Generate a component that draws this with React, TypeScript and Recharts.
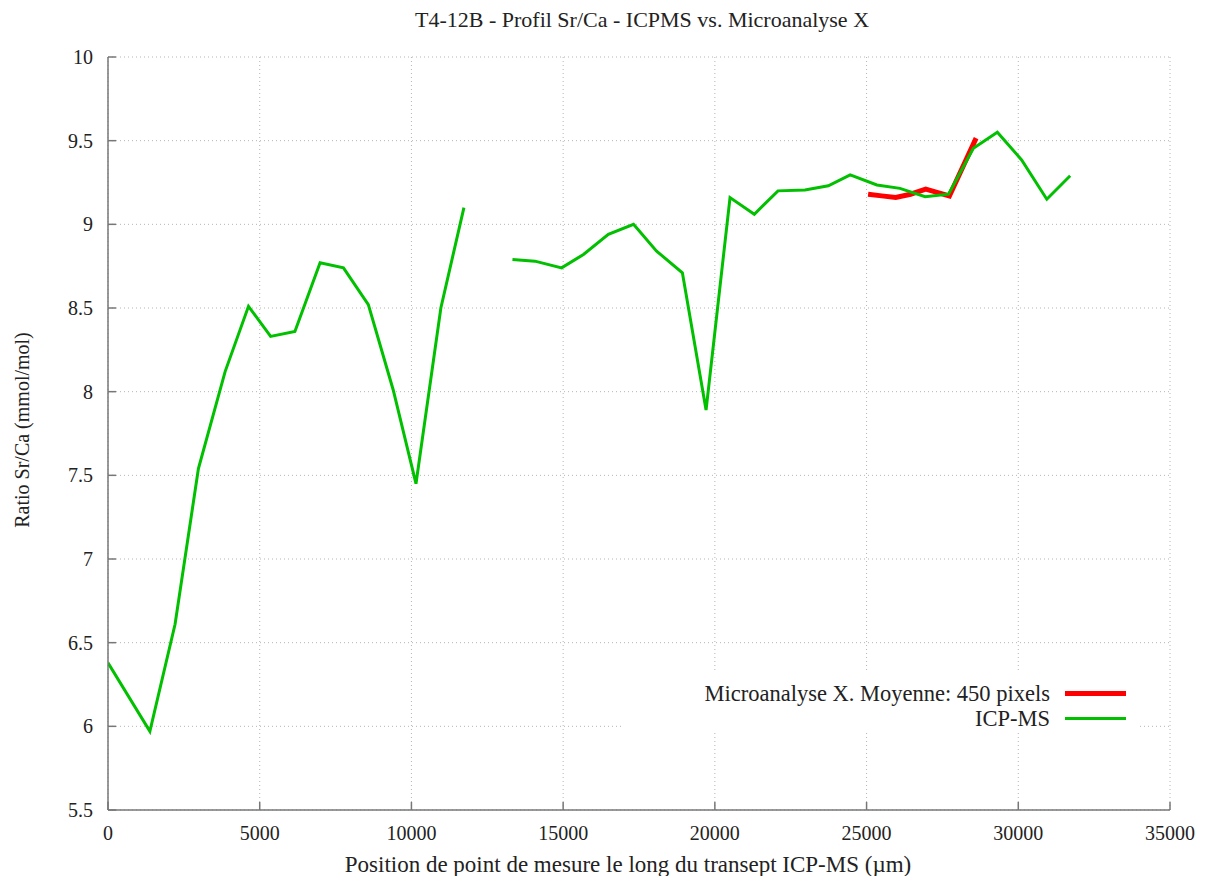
import React from 'react';
import { LineChart, Line, XAxis, YAxis, CartesianGrid, Legend } from 'recharts';

// ICP-MS profile (null = break in the transect)
const icpX = [
  0, 1380, 2210, 2980, 3860, 4630, 5360, 6160, 6990, 7760, 8580, 9400, 10150, 10970, 11730,
  12500,
  13330, 14070, 14950, 15670, 16490, 17320, 18080, 18930, 19710, 20500, 21300, 22080,
  22970, 23740, 24460, 25340, 26100, 26930, 27700, 28520, 29310, 30110, 30940, 31710,
];
const icpY = [
  6.38, 5.97, 6.61, 7.54, 8.12, 8.51, 8.33, 8.36, 8.77, 8.74, 8.52, 8.01, 7.45, 8.5, 9.1,
  null,
  8.79, 8.78, 8.74, 8.82, 8.94, 9.0, 8.84, 8.71, 7.89, 9.16, 9.06, 9.2,
  9.205, 9.23, 9.295, 9.235, 9.215, 9.165, 9.18, 9.455, 9.55, 9.385, 9.15, 9.29,
];

// Microanalyse X, moyenne 450 pixels
const microX = [25050, 25500, 25960, 26450, 26950, 27350, 27730, 28610];
const microY = [9.18, 9.17, 9.16, 9.18, 9.21, 9.19, 9.17, 9.515];

const seriesNames = ['Microanalyse X. Moyenne: 450 pixels', 'ICP-MS'];
const xTicks = [0, 5000, 10000, 15000, 20000, 25000, 30000, 35000];
const yTicks = [5.5, 6, 6.5, 7, 7.5, 8, 8.5, 9, 9.5, 10];

const icpData = icpX.map((x, i) => ({ x, y: icpY[i] }));
const microData = microX.map((x, i) => ({ x, y: microY[i] }));

const FONT = '"Liberation Serif", "DejaVu Serif", serif';
const TEXT = '#222';
const BORDER = '#777';

const LegendBox = (props: any) => {
  const items = [...(props.payload || [])].sort(
    (a: any, b: any) => seriesNames.indexOf(a.value) - seriesNames.indexOf(b.value)
  );
  return (
    <div style={{ background: '#fff', width: 515, height: 60, fontFamily: FONT, fontSize: 22.5, color: TEXT, paddingTop: 9, boxSizing: 'border-box' }}>
      {items.map((it: any) => (
        <div key={it.value} style={{ display: 'flex', alignItems: 'center', height: 25 }}>
          <div style={{ width: 428, textAlign: 'right', whiteSpace: 'nowrap' }}>{it.value}</div>
          <div style={{ marginLeft: 15, width: 61, height: it.value === 'ICP-MS' ? 3 : 5, background: it.color }} />
        </div>
      ))}
    </div>
  );
};

const App: React.FC = () => {
  const hiddenTick = () => <g />;
  return (
    <div style={{ position: 'relative', width: 1190, height: 868, fontFamily: FONT, background: '#fff' }}>
      <LineChart width={1190} height={868} margin={{ top: 49, right: 28, bottom: 36, left: 40 }}>
        <CartesianGrid stroke="#b5b5b5" strokeDasharray="1 3" />
        <XAxis
          type="number"
          dataKey="x"
          domain={[0, 35000]}
          ticks={xTicks}
          height={30}
          stroke={BORDER}
          strokeWidth={1.5}
          tickSize={-8}
          tickMargin={24}
          tick={{ fill: TEXT, fontSize: 20, fontFamily: FONT }}
          allowDataOverflow
        />
        <XAxis
          xAxisId="top"
          orientation="top"
          type="number"
          dataKey="x"
          domain={[0, 35000]}
          ticks={xTicks}
          height={0}
          stroke={BORDER}
          strokeWidth={1.5}
          tickSize={-8}
          tick={hiddenTick}
        />
        <YAxis
          type="number"
          domain={[5.5, 10]}
          ticks={yTicks}
          width={60}
          stroke={BORDER}
          strokeWidth={1.5}
          tickSize={-8}
          tickMargin={23}
          tick={{ fill: TEXT, fontSize: 20, fontFamily: FONT }}
          allowDataOverflow
        />
        <YAxis
          yAxisId="r"
          orientation="right"
          type="number"
          domain={[5.5, 10]}
          ticks={yTicks}
          width={0}
          stroke={BORDER}
          strokeWidth={1.5}
          tickSize={-8}
          tick={hiddenTick}
        />
        <Legend
          layout="horizontal"
          verticalAlign="middle"
          align="center"
          content={<LegendBox />}
          wrapperStyle={{ left: 614, top: 664, width: 515, height: 60 }}
        />
        <Line
          data={microData}
          dataKey="y"
          name={seriesNames[0]}
          type="linear"
          stroke="#ff0000"
          strokeWidth={5}
          dot={false}
          isAnimationActive={false}
        />
        <Line
          data={icpData}
          dataKey="y"
          name={seriesNames[1]}
          type="linear"
          stroke="#00c000"
          strokeWidth={3}
          dot={false}
          connectNulls={false}
          isAnimationActive={false}
        />
      </LineChart>
      <div style={{ position: 'absolute', left: 334, top: 0, width: 600, lineHeight: '24px', textAlign: 'center', fontSize: 22, color: TEXT }}>
        T4-12B - Profil Sr/Ca - ICPMS vs. Microanalyse X
      </div>
      <div style={{ position: 'absolute', left: 320, top: 845, width: 600, lineHeight: '24px', textAlign: 'center', fontSize: 23, color: TEXT }}>
        Position de point de mesure le long du transept ICP-MS (µm)
      </div>
      <div style={{ position: 'absolute', left: -136, top: 410, width: 300, lineHeight: '24px', textAlign: 'center', fontSize: 20, color: TEXT, transform: 'rotate(-90deg)' }}>
        Ratio Sr/Ca (mmol/mol)
      </div>
    </div>
  );
};

export default App;
